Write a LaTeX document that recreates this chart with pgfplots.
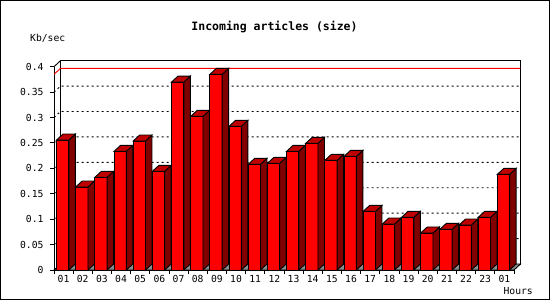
\documentclass[border=0pt]{standalone}
\usepackage{pgfplots}
\pgfplotsset{compat=1.18}
\usepackage{pgfplotstable}
\usepackage{fontspec}
\setmainfont{DejaVu Sans Mono}
\definecolor{frontcol}{HTML}{FF0000}
\definecolor{sidecol}{HTML}{800000}
\definecolor{topcol}{HTML}{C00000}
\definecolor{floorcol}{HTML}{8C8C8C}

\pgfplotstableread{
h v
1 0.2557
2 0.1633
3 0.1823
4 0.2334
5 0.2538
6 0.1941
7 0.3698
8 0.3023
9 0.3849
10 0.2826
11 0.2079
12 0.2098
13 0.2334
14 0.2492
15 0.2157
16 0.2236
17 0.1154
18 0.0905
19 0.1036
20 0.0728
21 0.0800
22 0.0885
23 0.1036
24 0.1882
}\data

% side and top faces of a 3D bar; origin = front top centre of the category
\pgfdeclareplotmark{bar3d}{%
  \pgfmathsetlengthmacro{\barh}{\val*508.25pt}%
  \pgfsetlinewidth{0.9pt}%
  \pgfsetstrokecolor{black}%
  \pgfpathmoveto{\pgfqpoint{5.25pt}{0pt}}%
  \pgfpathlineto{\pgfpoint{5.25pt}{-\barh}}%
  \pgfpathlineto{\pgfpoint{11.75pt}{-\barh+6pt}}%
  \pgfpathlineto{\pgfqpoint{11.75pt}{6pt}}%
  \pgfpathclose
  \pgfsetfillcolor{sidecol}%
  \pgfusepath{fill,stroke}%
  \pgfpathmoveto{\pgfqpoint{-7.05pt}{0pt}}%
  \pgfpathlineto{\pgfqpoint{5.25pt}{0pt}}%
  \pgfpathlineto{\pgfqpoint{11.75pt}{6pt}}%
  \pgfpathlineto{\pgfqpoint{-0.55pt}{6pt}}%
  \pgfpathclose
  \pgfsetfillcolor{topcol}%
  \pgfusepath{fill,stroke}%
}

\begin{document}
\begin{tikzpicture}
\draw[line width=1pt] (0.5pt,0.5pt) rectangle (549.5pt,299.5pt);
\begin{axis}[
  at={(54pt,30pt)}, anchor=south west,
  scale only axis, width=460pt, height=203.3pt,
  xmin=0.5, xmax=24.5, ymin=0, ymax=0.4,
  clip=false,
  axis x line*=bottom, axis y line*=left,
  axis line style={-, line width=0.9pt, black},
  tick align=outside,
  major tick length=4pt,
  tick style={line width=0.9pt, black},
  ytick={0,0.05,0.1,0.15,0.2,0.25,0.3,0.35,0.4},
  yticklabels={0,0.05,0.1,0.15,0.2,0.25,0.3,0.35,0.4},
  xtick={0.5,1.5,...,24.5},
  xticklabels={01,02,03,04,05,06,07,08,09,10,11,12,13,14,15,16,17,18,19,20,21,22,23,01,{}},
  yticklabel style={font=\fontsize{9.7}{10}\selectfont, xshift=-3pt},
  xticklabel style={font=\fontsize{9.7}{10}\selectfont, xshift=9.583pt, yshift=2pt},
  title={Incoming articles (size)},
  every axis title/.style={at={(rel axis cs:0.5,1)}, anchor=center, xshift=-9.5pt, yshift=40pt, font=\bfseries\fontsize{11.5}{12}\selectfont},
  ylabel={Kb/sec},
  every axis y label/.style={at={(rel axis cs:0,1)}, anchor=west, xshift=-24pt, yshift=28.7pt, inner sep=0pt, font=\fontsize{9.7}{10}\selectfont},
  xlabel={Hours},
  every axis x label/.style={at={(rel axis cs:1,0)}, anchor=east, xshift=19pt, yshift=-21pt, inner sep=0pt, font=\fontsize{9.7}{10}\selectfont},
]
% back wall
\draw[line width=0.9pt] ([shift={(6.5pt,6pt)}]axis cs:0.5,0) rectangle ([shift={(6.5pt,6pt)}]axis cs:24.5,0.4);
\draw[line width=0.9pt] (axis cs:0.5,0.4) -- ++(6.5pt,6pt);
% grid lines
\pgfplotsinvokeforeach{0.05,0.1,0.15,0.2,0.25,0.3,0.35}{
  \draw[line width=0.9pt, dash pattern=on 2pt off 3pt] (axis cs:0.5,#1) -- ++(6.5pt,6pt) -- ([shift={(6.5pt,6pt)}]axis cs:24.5,#1);
}
% maximum line
\draw[red, line width=0.9pt] (axis cs:0.5,0.3849) -- ++(6.5pt,6pt) -- ([shift={(6.5pt,6pt)}]axis cs:24.5,0.3849);
% floor
\filldraw[fill=floorcol, draw=black, line width=0.9pt] (axis cs:0.5,0) -- ++(6.5pt,6pt) -- ([shift={(6.5pt,6pt)}]axis cs:24.5,0) -- (axis cs:24.5,0) -- cycle;
% side and top faces
\addplot[only marks, mark=bar3d, visualization depends on={rawy\as\val}] table[x=h,y=v]{\data};
% front faces
\addplot[ybar, bar width=12.3pt, bar shift=-0.9pt, fill=frontcol, draw=black, line width=0.9pt] table[x=h,y=v]{\data};
\end{axis}
\end{tikzpicture}
\end{document}
